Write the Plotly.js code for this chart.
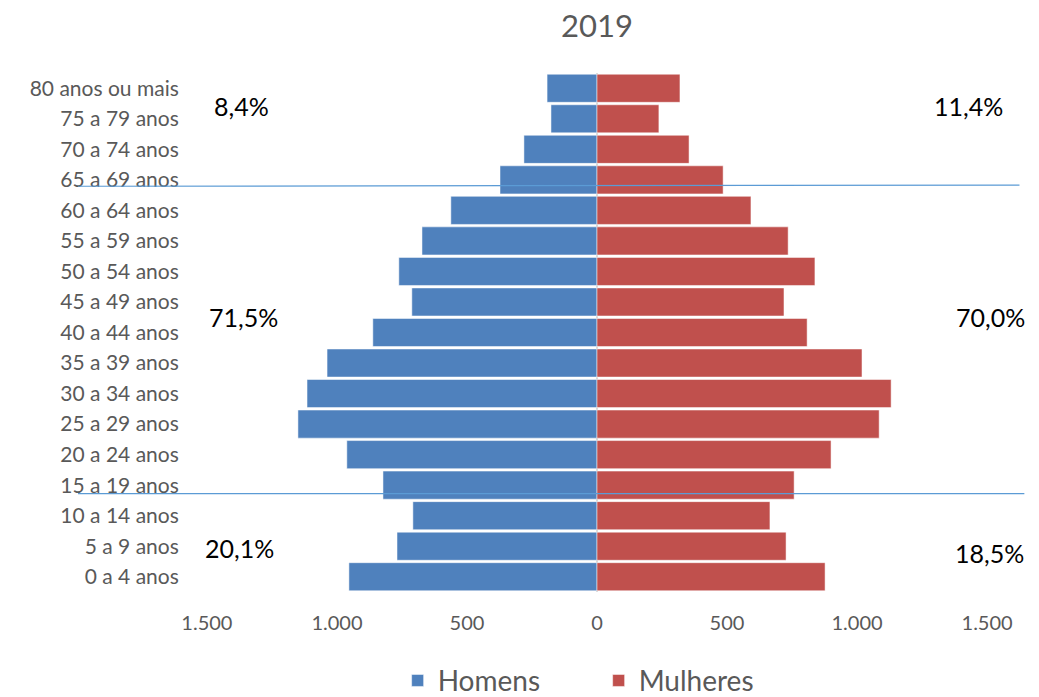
<!DOCTYPE html>
<html><head><meta charset="utf-8">
<script src="https://cdn.plot.ly/plotly-3.0.1.min.js"></script>
<style>body{margin:0;background:#fff}#c{width:1039px;height:697px}</style>
</head><body><div id="c"></div>
<script>
const categories = ["0 a 4 anos","5 a 9 anos","10 a 14 anos","15 a 19 anos","20 a 24 anos","25 a 29 anos","30 a 34 anos","35 a 39 anos","40 a 44 anos","45 a 49 anos","50 a 54 anos","55 a 59 anos","60 a 64 anos","65 a 69 anos","70 a 74 anos","75 a 79 anos","80 anos ou mais"];
const homens = [954,769,708,823,962,1150,1115,1038,862,712,762,673,562,373,281,177,192];
const mulheres = [877,727,665,758,900,1085,1131,1019,808,719,838,735,592,485,354,238,319];
const tickVals = [-1500,-1000,-500,0,500,1000,1500];
const tickText = ["1.500","1.000","500","0","500","1.000","1.500"];
const pctLeft = ["8,4%","71,5%","20,1%"];
const pctRight = ["11,4%","70,0%","18,5%"];

const font = "Lato, 'Open Sans', sans-serif";
const traces = [
  {type:'bar', orientation:'h', name:'Homens', y:categories, x:homens.map(v=>-v),
   marker:{color:'#4f81bd', line:{color:'#ffffff', width:0.5}}, hoverinfo:'skip'},
  {type:'bar', orientation:'h', name:'Mulheres', y:categories, x:mulheres,
   marker:{color:'#c0504d', line:{color:'#ffffff', width:0.5}}, hoverinfo:'skip'}
];
const lp = [[0.0627,0.936],[0.066,0.530],[0.061,0.0848]];
const rp = [[0.956,0.936],[0.984,0.530],[0.982,0.075]];
const annotations = [];
pctLeft.forEach((t,i)=>annotations.push({xref:'paper',yref:'paper',x:lp[i][0],y:lp[i][1],text:t,showarrow:false,font:{family:font,size:25,color:'#000'},xanchor:'center',yanchor:'middle'}));
pctRight.forEach((t,i)=>annotations.push({xref:'paper',yref:'paper',x:rp[i][0],y:rp[i][1],text:t,showarrow:false,font:{family:font,size:25,color:'#000'},xanchor:'center',yanchor:'middle'}));

const layout = {
  width:1039, height:697,
  margin:{l:190, r:35, t:73, b:105, autoexpand:false},
  paper_bgcolor:'#fff', plot_bgcolor:'#fff',
  title:{text:'2019', xref:'paper', x:0.5, xanchor:'center', y:0.962, yanchor:'middle', font:{family:font, size:31, color:'#595959'}},
  barmode:'overlay', bargap:0.08,
  xaxis:{range:[-1565,1565], tickvals:tickVals, ticktext:tickText, showgrid:false, automargin:false,
         zeroline:true, zerolinecolor:'#d9d9d9', zerolinewidth:2,
         ticks:'outside', ticklen:13, tickcolor:'rgba(0,0,0,0)',
         tickfont:{family:font, size:20, color:'#595959'}, fixedrange:true},
  yaxis:{type:'category', showgrid:false, zeroline:false, automargin:false, ticks:'outside', ticklen:6, tickcolor:'rgba(0,0,0,0)',
         tickfont:{family:font, size:21, color:'#595959'}, range:[-0.5,16.5]},
  legend:{orientation:'h', x:0.502, xanchor:'center', y:-0.171, yanchor:'middle', entrywidth:156, entrywidthmode:'pixels',
          font:{family:font, size:28, color:'#595959'}, itemwidth:30, traceorder:'normal'},
  shapes:[
    {type:'line', xref:'paper', yref:'y', x0:-0.1376, x1:1.019, y0:12.79, y1:12.83, line:{color:'#5b9bd5', width:1.2}},
    {type:'line', xref:'paper', yref:'y', x0:-0.1376, x1:1.025, y0:2.72, y1:2.72, line:{color:'#5b9bd5', width:1.2}}
  ],
  annotations:annotations
};
Plotly.newPlot('c', traces, layout, {displayModeBar:false, staticPlot:true});
</script></body></html>
